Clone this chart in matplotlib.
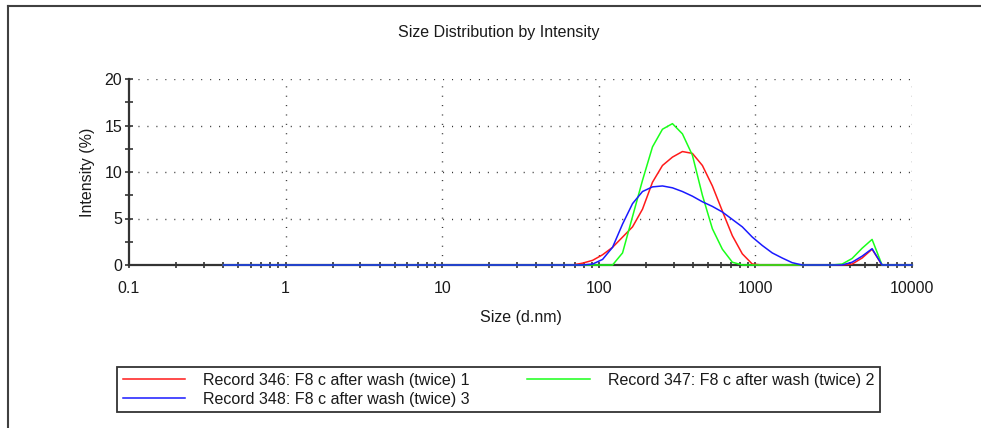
import matplotlib
matplotlib.use("Agg")
import matplotlib.pyplot as plt
from matplotlib.lines import Line2D
from matplotlib.ticker import LogLocator, FixedLocator, NullFormatter, FixedFormatter

plt.rcParams['font.family'] = ['Liberation Sans', 'DejaVu Sans']
plt.rcParams['lines.scale_dashes'] = False

# Malvern size bins (d.nm)
sizes = [0.4, 0.4632, 0.5365, 0.6213, 0.7195, 0.8332, 0.9649, 1.117, 1.294, 1.499,
         1.736, 2.010, 2.328, 2.696, 3.122, 3.615, 4.187, 4.849, 5.615, 6.503,
         7.531, 8.721, 10.10, 11.70, 13.54, 15.69, 18.17, 21.04, 24.36, 28.21,
         32.67, 37.84, 43.82, 50.75, 58.77, 68.06, 78.82, 91.28, 105.7, 122.4,
         141.8, 164.2, 190.1, 220.2, 255.0, 295.3, 342.0, 396.1, 458.7, 531.2,
         615.1, 712.4, 825.0, 955.4, 1106, 1281, 1484, 1718, 1990, 2305,
         2669, 3091, 3580, 4145, 4801, 5560, 6439, 7456, 8635, 10000]

zeros35 = [0.0] * 35
# Record 346 (red)
rec346 = zeros35 + [0.0, 0.2, 0.5, 1.1, 1.9, 3.0, 4.1, 6.0, 8.9, 10.7,
                    11.6, 12.2, 12.0, 10.7, 8.5, 5.8, 3.15, 1.2, 0.1, 0.0,
                    0.0, 0.0, 0.0, 0.0, 0.0, 0.0, 0.0, 0.0, 0.1, 0.75,
                    1.7, 0.0, 0.0, 0.0, 0.0]
# Record 347 (green)
rec347 = zeros35 + [0.0, 0.0, 0.0, 0.0, 0.0, 1.3, 5.2, 9.1, 12.7, 14.6,
                    15.2, 14.1, 11.8, 7.5, 3.9, 1.7, 0.3, 0.0, 0.0, 0.0,
                    0.0, 0.0, 0.0, 0.0, 0.0, 0.0, 0.0, 0.1, 0.7, 1.8,
                    2.75, 0.0, 0.0, 0.0, 0.0]
# Record 348 (blue)
rec348 = zeros35 + [0.0, 0.0, 0.1, 0.6, 1.9, 4.4, 6.6, 7.9, 8.4, 8.5,
                    8.3, 7.9, 7.4, 6.8, 6.3, 5.7, 4.9, 4.1, 3.0, 2.1,
                    1.3, 0.75, 0.25, 0.0, 0.0, 0.0, 0.0, 0.0, 0.3, 0.95,
                    1.75, 0.0, 0.0, 0.0, 0.0]

labels = ["Record 346: F8 c after wash (twice) 1",
          "Record 347: F8 c after wash (twice) 2",
          "Record 348: F8 c after wash (twice) 3"]
colors = ["#ff1a1a", "#1aff1a", "#1a1aff"]

x_ticks = [0.1, 1, 10, 100, 1000, 10000]
x_ticklabels = ["0.1", "1", "10", "100", "1000", "10000"]
y_ticks = [0, 5, 10, 15, 20]

FS = 11.5
W, H = 981, 428
fig = plt.figure(figsize=(W / 100, H / 100), dpi=100)
ax = fig.add_axes([129 / W, 1 - 265 / H, (912 - 129) / W, (265 - 79) / H])

lines = []
for vals, c, lab in zip([rec346, rec347, rec348], colors, labels):
    ln, = ax.plot(sizes, vals, color=c, lw=1.1, label=lab, zorder=3, clip_on=False)
    lines.append(ln)

ax.set_xscale('log')
ax.set_xlim(0.1, 10000)
ax.set_ylim(0, 20)

ax.xaxis.set_major_locator(FixedLocator(x_ticks))
ax.xaxis.set_major_formatter(FixedFormatter(x_ticklabels))
ax.xaxis.set_minor_locator(LogLocator(base=10, subs=range(2, 10), numticks=20))
ax.xaxis.set_minor_formatter(NullFormatter())
ax.yaxis.set_major_locator(FixedLocator(y_ticks))
ax.yaxis.set_minor_locator(FixedLocator([2.5, 7.5, 12.5, 17.5]))

dark = "#333333"
for side in ['top', 'right']:
    ax.spines[side].set_visible(False)
for side in ['left', 'bottom']:
    ax.spines[side].set_color(dark)
    ax.spines[side].set_linewidth(1.6)
    ax.spines[side].set_zorder(2)

ax.tick_params(axis='both', which='both', direction='inout', color=dark, width=1.2,
               labelsize=FS, labelcolor='#1a1a1a')
ax.tick_params(axis='y', which='both', length=6, pad=2)
ax.tick_params(axis='x', which='both', length=5, pad=9)

for y in [5, 10, 15, 20]:
    ax.axhline(y, color=dark, lw=1.0, ls=(0, (0.75, 5.7)), zorder=1)
for x in [1, 10, 100, 1000, 10000]:
    ax.axvline(x, color=dark, lw=1.0, ls=(0, (0.75, 6.0)), zorder=1)

fig.text(498.5 / W, 1 - 33 / H, "Size Distribution by Intensity", fontsize=FS,
         ha='center', va='center', color='#1a1a1a')
ax.set_xlabel("Size (d.nm)", fontsize=FS, labelpad=10, color='#1a1a1a')
ax.set_ylabel("Intensity (%)", fontsize=FS, labelpad=7, color='#1a1a1a')

leg = fig.legend(handles=[lines[0], lines[2], lines[1]],
                 labels=[labels[0], labels[2], labels[1]],
                 ncol=2, loc='upper left',
                 bbox_to_anchor=(117 / W, 1 - 413 / H, (880 - 117) / W, (413 - 367) / H),
                 mode='expand', fontsize=FS, frameon=True, fancybox=False,
                 handlelength=3.9, handletextpad=1.15, columnspacing=2.0,
                 labelspacing=0.25, borderpad=0.35, borderaxespad=0.0,
                 edgecolor=dark, framealpha=1)
leg.get_frame().set_linewidth(1.3)
for t in leg.get_texts():
    t.set_color('#1a1a1a')

# outer frame
fig.add_artist(Line2D([8 / W, 1], [1 - 6 / H, 1 - 6 / H], color='#404040', lw=1.5,
                      transform=fig.transFigure))
fig.add_artist(Line2D([8 / W, 8 / W], [0, 1 - 6 / H], color='#404040', lw=1.5,
                      transform=fig.transFigure))

fig.savefig("out.png", dpi=100)
